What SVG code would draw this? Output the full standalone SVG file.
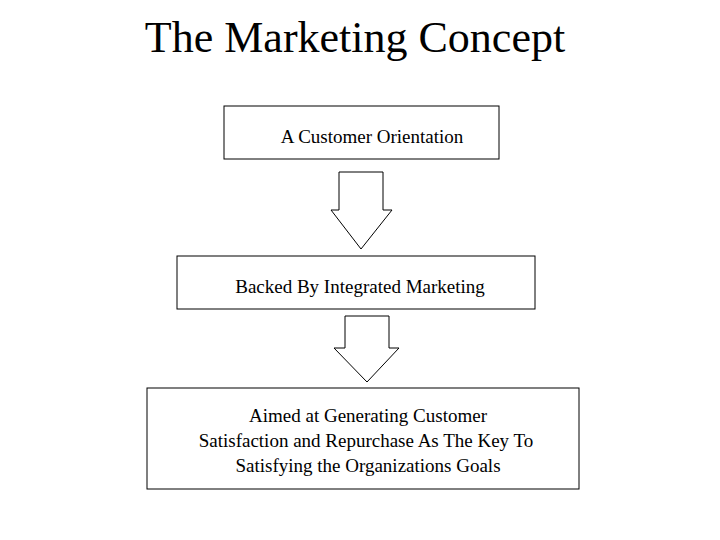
<svg xmlns="http://www.w3.org/2000/svg" width="720" height="540" viewBox="0 0 720 540">
<style>
.b{fill:#fff;stroke:#000;stroke-width:1}
.t{font-family:"Liberation Serif",serif;font-size:19px;fill:#000;text-anchor:middle}
</style>
<rect width="720" height="540" fill="#fff"/>
<text x="355" y="52" style="font-family:'Liberation Serif',serif;font-size:44px;text-anchor:middle">The Marketing Concept</text>
<g id="n1"><rect class="b" x="224" y="106" width="275" height="53"/><text class="t" x="372" y="143">A Customer Orientation</text></g>
<g id="n2"><rect class="b" x="177" y="256" width="358" height="53"/><text class="t" x="360" y="293">Backed By Integrated Marketing</text></g>
<g id="n3"><rect class="b" x="147" y="388" width="432" height="101"/>
<text class="t" x="368" y="422">Aimed at Generating Customer</text>
<text class="t" x="366" y="447">Satisfaction and Repurchase As The Key To</text>
<text class="t" x="368" y="472">Satisfying the Organizations Goals</text></g>
<g id="connectors">
<polygon class="b" points="339,172 383,172 383,210 392,210 361,249 331,210 339,210"/>
<polygon class="b" points="345,316 389,316 389,348 399,348 367,382 334,348 345,348"/>
</g>
</svg>
